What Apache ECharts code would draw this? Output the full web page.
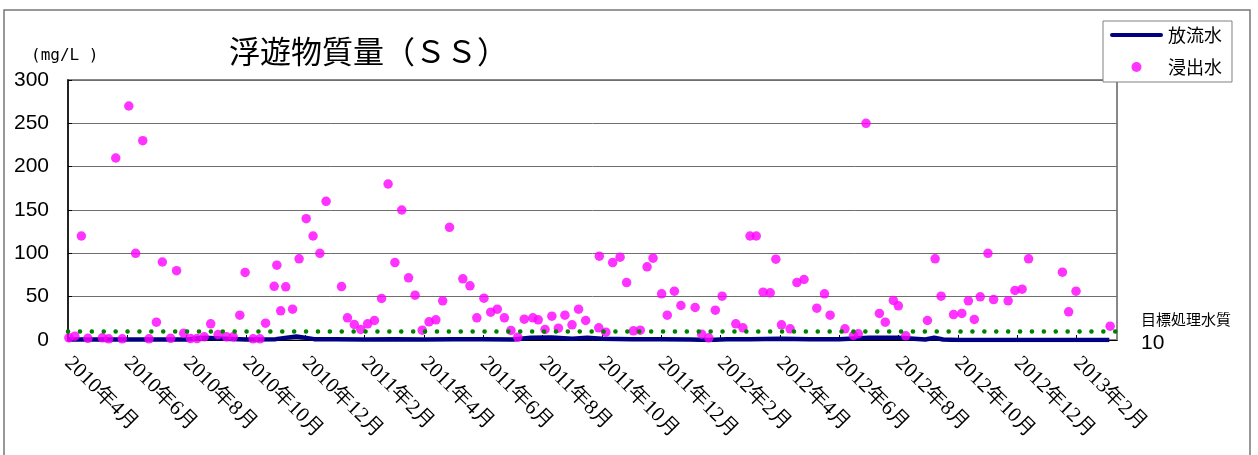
<!DOCTYPE html>
<html>
<head>
<meta charset="utf-8">
<script src="https://cdn.jsdelivr.net/npm/echarts@6/dist/echarts.min.js"></script>
<style>
html,body{margin:0;padding:0;background:#fff;}
#chart{width:1258px;height:455px;}
</style>
</head>
<body>
<div id="chart"></div>
<script>
// x positions are months elapsed since 2010年4月1日
const xTickLabels = ['2010年4月','2010年6月','2010年8月','2010年10月','2010年12月','2011年2月','2011年4月','2011年6月','2011年8月','2011年10月','2011年12月','2012年2月','2012年4月','2012年6月','2012年8月','2012年10月','2012年12月','2013年2月'];

const leachateMonth = [0.03,0.23,0.45,0.67,1.16,1.37,1.61,1.83,2.05,2.28,2.52,2.73,2.98,3.18,3.46,3.66,3.90,4.13,4.35,4.59,4.81,5.06,5.34,5.57,5.79,5.97,6.24,6.47,6.66,6.95,7.04,7.17,7.34,7.57,7.79,8.03,8.26,8.49,8.70,9.22,9.42,9.65,9.87,10.10,10.33,10.57,10.79,11.02,11.25,11.48,11.70,11.94,12.17,12.40,12.63,12.86,13.31,13.55,13.78,14.02,14.25,14.47,14.71,14.93,15.16,15.38,15.67,15.85,16.08,16.31,16.53,16.75,16.99,17.21,17.45,17.91,17.89,18.13,18.36,18.61,18.83,19.06,19.29,19.52,19.72,20.01,20.20,20.44,20.66,21.14,21.36,21.60,21.82,22.05,22.51,22.75,22.99,23.20,23.43,23.67,23.86,24.05,24.34,24.57,24.81,25.24,25.50,25.69,26.19,26.48,26.64,26.90,27.35,27.55,27.82,27.99,28.24,28.97,29.23,29.43,29.85,30.13,30.35,30.55,30.75,31.01,31.20,31.69,31.92,32.16,32.38,33.52,33.73,33.98,35.13];
const leachateValue = [2.5,4.4,120,2,2.5,1.4,210,1.4,270,100,230,1.4,20.5,90,2,80,7.9,1.7,1.7,3.7,18.7,6.3,3.7,3.7,28.6,78,1.4,1.4,19.4,62,86.3,33.7,61.4,35.5,93.7,140,120,100,160,61.7,25.6,17.9,12.1,18.7,22.5,47.9,180,89.4,150,71.8,51.7,11.3,21,23.3,45.2,130,70.6,62.5,25.6,48.2,32.1,35.5,25.6,11,3.2,24,25.6,23.3,12.1,27.5,13.6,28.6,17.5,35.5,22.5,96.7,14.1,9,89.4,95.6,66.3,10.6,11.3,84.5,94.4,53.3,28.6,56.3,39.8,37.5,6.7,2.5,34.4,50.5,18.7,14.1,120,120,55.2,54.5,93.2,17.5,12.9,66.3,69.8,36.7,53.3,28.6,12.9,5.2,7.2,250,30.6,20.5,45.6,39.5,4.8,22.5,93.7,50.5,29.4,30.6,45.2,23.7,49.8,100,46.7,45.2,57.1,58.6,93.7,78.2,32.5,56.3,15.9];

const effluentMonth = [0,1,2,3,4,4.6,5.3,6,7,7.7,8.3,9,10,11,12,13,14,15,15.6,16.3,17,17.5,18,19,20,21,21.6,22.2,23,24,25,26,27,28,28.9,29.2,29.5,30,31,32,33,34,35.1];
const effluentValue = [0.5,0.5,0.5,0.5,0.5,2.5,1.5,0.5,1,4,1,0.8,0.5,1,0.5,0.8,1,0.5,2.5,3,1.5,2.5,1.5,0.8,1,0.5,0,1,1,1.5,1,0.8,2.5,2.5,0.5,2.5,0.5,0,0,0,0,0,0];

const targetLevel = 10;
const yTicks = {min: 0, max: 300, interval: 50};
const xMaxMonth = 35.36;

const chart = echarts.init(document.getElementById('chart'), null, {renderer: 'canvas'});

const option = {
  backgroundColor: '#ffffff',
  animation: false,
  title: {
    text: '浮遊物質量（ＳＳ）',
    left: 229, top: 36, padding: 0,
    textStyle: {fontSize: 31, fontWeight: 'normal', color: '#000', fontFamily: 'Noto Sans CJK JP'}
  },
  graphic: [
    {type: 'rect', shape: {x: 4, y: 10, width: 1246, height: 470}, style: {fill: 'none', stroke: '#777', lineWidth: 1.5}, silent: true, z: 0},
    {type: 'text', left: 31, top: 48, style: {text: '(mg/L )', fontSize: 16, fontFamily: 'DejaVu Sans Mono', fill: '#000'}}
  ],
  legend: {
    left: 1103, top: 21, orient: 'vertical',
    backgroundColor: '#fff', borderColor: '#808080', borderWidth: 1,
    padding: [5, 10, 6, 7],
    itemWidth: 53, itemHeight: 10, itemGap: 14,
    textStyle: {fontSize: 18, color: '#000', fontFamily: 'Noto Sans CJK JP'},
    data: [
      {name: '放流水', icon: 'path://M2,0 L51,0 A2,2 0 0 1 51,4 L2,4 A2,2 0 0 1 2,0 Z'},
      {name: '浸出水', icon: 'circle'}
    ]
  },
  grid: {
    show: true, left: 68, top: 80, right: 141, bottom: 115,
    borderColor: '#888', borderWidth: 2, backgroundColor: '#fff',
    containLabel: false, outerBoundsMode: 'none'
  },
  xAxis: {
    type: 'value', min: 0, max: xMaxMonth, interval: 2,
    axisLine: {show: true, lineStyle: {color: '#000', width: 1}},
    axisTick: {show: true, inside: true, length: 5, lineStyle: {color: '#000'}},
    splitLine: {show: false},
    axisLabel: {
      rotate: -45, margin: 20, fontSize: 21, color: '#000',
      fontFamily: 'Liberation Serif',
      showMaxLabel: false,
      formatter: function (v) {
        const i = Math.round(v / 2);
        return Math.abs(v - i * 2) < 1e-6 ? (xTickLabels[i] || '') : '';
      }
    }
  },
  yAxis: {
    type: 'value', min: yTicks.min, max: yTicks.max, interval: yTicks.interval,
    axisLine: {show: true, lineStyle: {color: '#000', width: 1.5}},
    axisTick: {show: true, inside: true, length: 4, lineStyle: {color: '#000'}},
    splitLine: {show: true, lineStyle: {color: '#6e6e6e', width: 1}},
    axisLabel: {fontSize: 21, margin: 19, color: '#000', fontFamily: 'Liberation Sans'}
  },
  series: [
    {
      name: '放流水', type: 'line', z: 2,
      data: effluentMonth.map((m, i) => [m, effluentValue[i]]),
      symbol: 'none', showSymbol: false,
      color: '#000080',
      lineStyle: {color: '#000080', width: 4.5},
      emphasis: {disabled: true}
    },
    {
      name: '浸出水', type: 'scatter', z: 3,
      data: leachateMonth.map((m, i) => [m, leachateValue[i]]),
      symbol: 'circle', symbolSize: 9.5,
      color: '#ff00ff',
      itemStyle: {color: '#ff00ff'},
      emphasis: {disabled: true},
      markLine: {
        silent: true, symbol: ['none', 'none'], animation: false,
        data: [{yAxis: targetLevel}],
        lineStyle: {color: '#008000', width: 4.5, type: [0.1, 11.8], cap: 'round'},
        emphasis: {disabled: true},
        label: {
          show: true, position: 'end', distance: 24,
          formatter: '{a|目標処理水質}\n{b|' + targetLevel + '}',
          rich: {
            a: {fontSize: 15, lineHeight: 24, color: '#000', fontFamily: 'Noto Sans CJK JP', align: 'left'},
            b: {fontSize: 21, lineHeight: 24, color: '#000', fontFamily: 'Liberation Sans', align: 'left'}
          }
        }
      }
    }
  ]
};
chart.setOption(option);
</script>
</body>
</html>
